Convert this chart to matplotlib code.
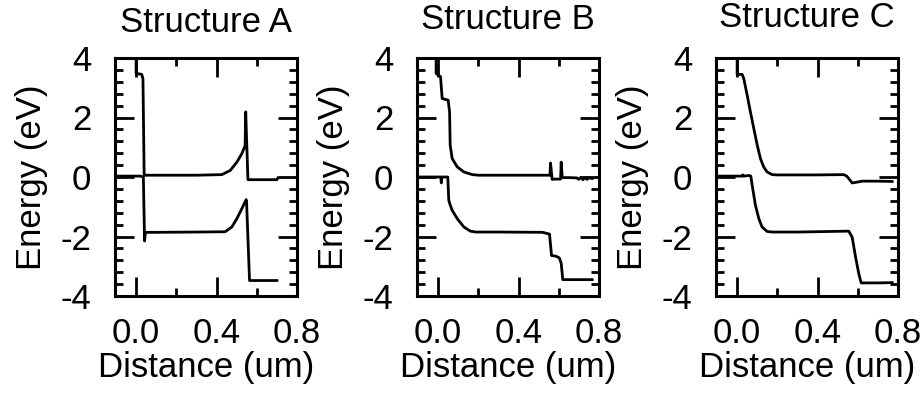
import matplotlib
matplotlib.use('Agg')
import matplotlib.pyplot as plt
from matplotlib.ticker import MultipleLocator

plt.rcParams['font.family'] = ['Liberation Sans', 'DejaVu Sans']
plt.rcParams['font.size'] = 25

# Band edges (conduction / valence) along the device, in eV vs um
cb_a_x = [0.0, 0.0, 0.028, 0.034, 0.040, 0.048, 0.10, 0.30, 0.426, 0.468, 0.501, 0.526, 0.542, 0.545, 0.556, 0.62, 0.70, 0.705]
cb_a_y = [4.3, 3.48, 3.45, 3.30, 0.05, 0.06, 0.06, 0.06, 0.08, 0.22, 0.50, 0.79, 1.05, 2.19, -0.09, -0.09, -0.09, -0.03]
vb_a_x = [-0.105, 0.02, 0.036, 0.042, 0.046, 0.055, 0.10, 0.30, 0.443, 0.476, 0.501, 0.526, 0.547, 0.549, 0.564, 0.62, 0.70]
vb_a_y = [0.03, 0.03, 0.0, -2.15, -1.87, -1.86, -1.86, -1.85, -1.84, -1.68, -1.40, -1.06, -0.76, -0.80, -3.48, -3.48, -3.48]

cb_b_x = [-0.01, -0.01, 0.012, 0.02, 0.05, 0.057, 0.06, 0.07, 0.095, 0.128, 0.17, 0.20, 0.40, 0.556, 0.559, 0.567,
          0.58, 0.609, 0.612, 0.617, 0.65, 0.69, 0.70, 0.71, 0.72, 0.73, 0.74, 0.75, 0.766]
cb_b_y = [4.3, 3.48, 3.37, 2.64, 2.58, 2.19, 1.07, 0.62, 0.34, 0.17, 0.08, 0.06, 0.06, 0.06, 0.47, -0.08,
          -0.07, -0.07, 0.50, -0.02, -0.02, -0.03, -0.08, -0.01, -0.09, -0.02, -0.08, -0.03, -0.05]
vb_b_x = [-0.105, 0.013, 0.016, 0.019, 0.048, 0.053, 0.058, 0.07, 0.095, 0.128, 0.16, 0.187, 0.30, 0.52, 0.554,
          0.564, 0.585, 0.603, 0.612, 0.62, 0.70, 0.766]
vb_b_y = [0.0, 0.0, -0.2, 0.0, 0.0, -0.78, -0.90, -1.12, -1.40, -1.68, -1.82, -1.85, -1.85, -1.86, -1.92,
          -2.64, -2.66, -2.72, -2.90, -3.45, -3.45, -3.45]

cb_c_x = [0.0, 0.0, 0.025, 0.033, 0.05, 0.066, 0.083, 0.10, 0.116, 0.132, 0.149, 0.174, 0.20, 0.40, 0.53,
          0.545, 0.555, 0.572, 0.59, 0.622, 0.70, 0.771]
cb_c_y = [4.3, 3.45, 3.45, 3.31, 2.75, 2.19, 1.63, 1.07, 0.62, 0.34, 0.17, 0.08, 0.07, 0.07, 0.08,
          0.03, -0.05, -0.20, -0.18, -0.14, -0.14, -0.15]
vb_c_x = [-0.105, 0.025, 0.028, 0.032, 0.06, 0.068, 0.075, 0.091, 0.108, 0.124, 0.149, 0.174, 0.30, 0.555,
          0.572, 0.589, 0.605, 0.617, 0.70, 0.771]
vb_c_y = [0.03, 0.03, 0.07, 0.03, 0.05, 0.03, -0.28, -0.95, -1.40, -1.68, -1.83, -1.85, -1.85, -1.82,
          -2.02, -2.69, -3.25, -3.56, -3.56, -3.55]

titles = ['Structure A', 'Structure B', 'Structure C']
curves = [(cb_a_x, cb_a_y, vb_a_x, vb_a_y),
          (cb_b_x, cb_b_y, vb_b_x, vb_b_y),
          (cb_c_x, cb_c_y, vb_c_x, vb_c_y)]
lefts = [115, 417, 716]
title_pads = [19, 21, 22.5]

W, H = 923, 394
fig = plt.figure(figsize=(W / 100, H / 100), dpi=100)

for i in range(3):
    ax = fig.add_axes([lefts[i] / W, (H - 296) / H, 182 / W, 238 / H])
    cbx, cby, vbx, vby = curves[i]
    ax.plot(cbx, cby, color='black', linewidth=2.0)
    ax.plot(vbx, vby, color='black', linewidth=2.0)
    ax.set_xlim(-0.105, 0.8)
    ax.set_ylim(-4, 4)
    ax.xaxis.set_minor_locator(MultipleLocator(0.2))
    ax.yaxis.set_minor_locator(MultipleLocator(0.4))
    ax.set_xticks([0.0, 0.4, 0.8])
    ax.set_xticklabels(['0.0', '0.4', '0.8'])
    ax.set_yticks([-4, -2, 0, 2, 4])
    ax.set_yticklabels(['-4', '-2', '0', '2', '4'])
    ax.tick_params(which='both', direction='in', top=True, right=True, width=2.0)
    ax.tick_params(which='major', length=13.5)
    ax.tick_params(which='minor', length=6)
    ax.tick_params(axis='x', which='major', pad=15)
    ax.tick_params(axis='y', which='major', pad=17)
    for sp in ax.spines.values():
        sp.set_linewidth(2.2)
    ax.set_xlabel('Distance (um)', labelpad=1)
    ax.set_ylabel('Energy (eV)', labelpad=9)
    ax.set_title(titles[i], pad=title_pads[i], fontsize=25)

fig.savefig('out.png', dpi=100)
